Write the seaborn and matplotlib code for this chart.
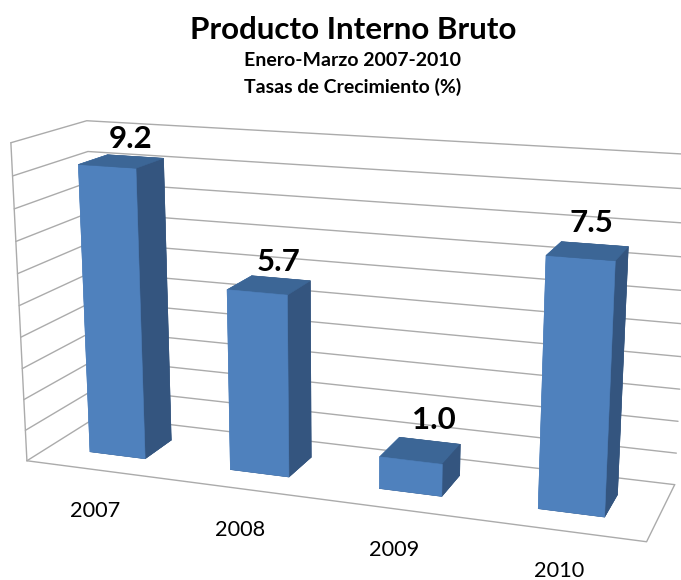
import seaborn as sns
import matplotlib
matplotlib.use("Agg")
import matplotlib.pyplot as plt
from mpl_toolkits.mplot3d import proj3d

anios = ["2007", "2008", "2009", "2010"]
crecimiento = [9.2, 5.7, 1.0, 7.5]
marcas_z = [0, 1, 2, 3, 4, 5, 6, 7, 8, 9, 10]

sns.set_theme(style="white", font="Lato")
# frente, lado y tapa de las barras
frente, lado, tapa = sns.color_palette(["#4F81BD", "#34557F", "#3C6696"])
gris = "#ABABAB"
# desplazamiento de cada etiqueta de valor, en puntos
despl_etiqueta = [(7, 16), (7, 17), (10, 22), (3, 20)]

fig = plt.figure(figsize=(6.81, 5.8), dpi=100)
# vista ajustada contra las esquinas del piso y de las paredes
ax = fig.add_axes([-0.0409, -0.1843, 1.0647, 1.2501], projection="3d", computed_zorder=False)
ax.set_xlim(0, len(anios))
ax.set_ylim(0, 1)
ax.set_zlim(marcas_z[0], marcas_z[-1])
ax.view_init(elev=14.859, azim=-70.183)
ax.set_proj_type("persp", focal_length=0.436)
ax.set_box_aspect((1.936, 0.473, 1.0))
ax.set_axis_off()

x_max = len(anios)
for z in marcas_z:
    ax.plot([0, 0, x_max], [0, 1, 1], [z, z, z], color=gris, lw=1.0, zorder=1)
ax.plot([0, 0], [0, 0], [marcas_z[0], marcas_z[-1]], color=gris, lw=1.0, zorder=1)
ax.plot([0, x_max, x_max], [0, 0, 1], [0, 0, 0], color=gris, lw=1.0, zorder=1)

M = ax.get_proj()
ancho = 0.4
for i, (anio, v) in enumerate(zip(anios, crecimiento)):
    # orden de caras en bar3d: abajo, tapa, frente, atras, izquierda, derecha
    caras = [lado, tapa, frente, lado, frente, lado]
    ax.bar3d(i + 0.3, 0.3, 0, ancho, ancho, v, shade=False, color=caras,
             edgecolor=caras, linewidth=0.4, zorder=3 + i)
    xv, yv, _ = proj3d.proj_transform(i + 0.5, 0.5, v, M)
    ax.annotate(f"{v:.1f}", (xv, yv), xytext=despl_etiqueta[i], textcoords="offset points",
                ha="center", va="center", fontsize=22.5, fontweight="bold",
                color="black", zorder=20)
    xa, ya, _ = proj3d.proj_transform(i + 0.5, 0, 0, M)
    ax.annotate(anio, (xa, ya), xytext=(-1, -29.5), textcoords="offset points",
                ha="center", va="center", fontsize=15.7, color="black", zorder=20)

fig.text(353 / 681, 1 - 30 / 580, "Producto Interno Bruto", ha="center", va="center",
         fontsize=22.6, fontweight="bold", color="black")
fig.text(353 / 681, 1 - 60 / 580, "Enero-Marzo 2007-2010", ha="center", va="center",
         fontsize=14, fontweight="bold", color="black")
fig.text(353 / 681, 1 - 87 / 580, "Tasas de Crecimiento (%)", ha="center", va="center",
         fontsize=14, fontweight="bold", color="black")

fig.savefig("out.png", dpi=100)
